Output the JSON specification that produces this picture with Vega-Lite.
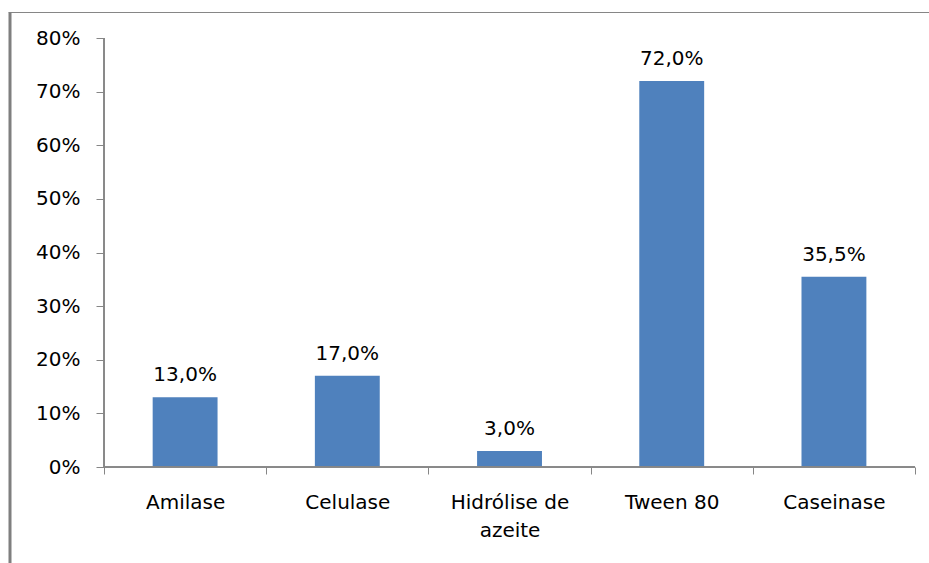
{
  "$schema": "https://vega.github.io/schema/vega-lite/v6.json",
  "width": 921,
  "height": 551,
  "autosize": {"type": "none"},
  "padding": {"left": 8, "top": 12, "right": 0, "bottom": 0},
  "background": "white",
  "data": {
    "values": [
      {"ensaio": "Amilase", "valor": 0.13},
      {"ensaio": "Celulase", "valor": 0.17},
      {"ensaio": "Hidrólise de azeite", "valor": 0.03},
      {"ensaio": "Tween 80", "valor": 0.72},
      {"ensaio": "Caseinase", "valor": 0.355}
    ]
  },
  "layer": [
    {
      "mark": {"type": "bar", "color": "#4F81BD", "width": {"band": 0.4}},
      "encoding": {
        "x": {
          "field": "ensaio",
          "type": "nominal",
          "sort": null,
          "scale": {
            "domain": ["Amilase", "Celulase", "Hidrólise de azeite", "Tween 80", "Caseinase"],
            "paddingInner": 0,
            "paddingOuter": 0.339,
            "align": 0.873
          },
          "axis": {
            "orient": "bottom",
            "offset": -96,
            "title": null,
            "domain": false,
            "tickBand": "extent",
            "tickSize": 7,
            "tickColor": "#868686",
            "labelAngle": 0,
            "labelPadding": 18,
            "labelBaseline": "top",
            "labelLineHeight": 28,
            "labelExpr": "datum.label == 'Hidrólise de azeite' ? ['Hidrólise de', 'azeite'] : datum.label"
          }
        },
        "y": {
          "field": "valor",
          "type": "quantitative",
          "scale": {"domain": [-0.179, 0.8485], "nice": false, "zero": false},
          "axis": {
            "orient": "left",
            "offset": -96,
            "title": null,
            "domain": false,
            "values": [0, 0.1, 0.2, 0.3, 0.4, 0.5, 0.6, 0.7, 0.8],
            "format": ".0%",
            "tickSize": 8,
            "tickColor": "#868686",
            "labelPadding": 16
          }
        }
      }
    },
    {
      "mark": {"type": "text", "dy": -16, "baseline": "alphabetic", "align": "center", "font": "DejaVu Sans", "fontSize": 20, "color": "#000000"},
      "encoding": {
        "x": {
          "field": "ensaio",
          "type": "nominal",
          "sort": null,
          "axis": {"orient": "top", "title": null, "labels": false, "ticks": false, "domain": true, "domainColor": "#868686", "domainWidth": 1}
        },
        "y": {
          "field": "valor",
          "type": "quantitative",
          "axis": {"orient": "left", "title": null, "labels": false, "ticks": false, "domain": true, "domainColor": "#7f7f7f", "domainWidth": 3, "offset": -1.5}
        },
        "text": {"field": "valor", "type": "quantitative", "format": ".1%"}
      }
    },
    {
      "mark": {"type": "rule", "color": "#868686", "strokeWidth": 1},
      "encoding": {
        "x": {"datum": "Amilase", "type": "nominal", "bandPosition": 0, "axis": null},
        "y": {"datum": 0, "type": "quantitative", "axis": null},
        "y2": {"datum": 0.8}
      }
    },
    {
      "mark": {"type": "rule", "color": "#868686", "strokeWidth": 1},
      "encoding": {
        "x": {"datum": "Amilase", "type": "nominal", "bandPosition": 0, "axis": null},
        "x2": {"datum": "Caseinase", "bandPosition": 1},
        "y": {"datum": 0, "type": "quantitative", "axis": null}
      }
    }
  ],
  "resolve": {"axis": {"x": "independent", "y": "independent"}},
  "config": {
    "locale": {
      "number": {"decimal": ",", "thousands": ".", "grouping": [3], "currency": ["", " €"]}
    },
    "view": {"stroke": null},
    "axis": {
      "grid": false,
      "labelFont": "DejaVu Sans",
      "labelFontSize": 20,
      "labelColor": "#000000",
      "labelFontWeight": "normal"
    }
  }
}
